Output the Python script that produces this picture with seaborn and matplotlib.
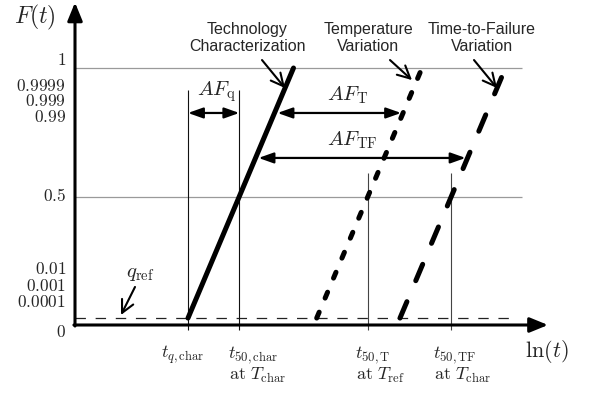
import numpy as np
import pandas as pd
import matplotlib
matplotlib.use("Agg")
import matplotlib.pyplot as plt
import seaborn as sns

# ---------------- data ----------------
curve_keys = ["char", "T", "TF"]
curve_names = ["Technology\nCharacterization", "Temperature\nVariation",
               "Time-to-Failure\nVariation"]
ln_t_start = [1.13, 2.417, 3.25]      # ln(t) where each curve leaves q_ref
ln_t_end = [2.185, 3.47, 4.305]       # ln(t) where each curve reaches F = 1
F_qref = 0.027                        # probability-scale position of q_ref
F_one = 1.0
F_half = 0.5
ytick_labels = ["1", "0.9999", "0.999", "0.99", "0.5", "0.01", "0.001", "0.0001", "0"]
ytick_pos = [1.031, 0.931, 0.871, 0.808, 0.502, 0.218, 0.152, 0.089, -0.027]
F_AFq = 0.825
F_AFT = 0.825
F_AFTF = 0.650

# ---------------- style ----------------
sns.set_style("white")
plt.rcParams["mathtext.fontset"] = "cm"
plt.rcParams["font.family"] = ["Liberation Sans", "DejaVu Sans"]
plt.rcParams["lines.scale_dashes"] = False

fig = plt.figure(figsize=(5.92, 3.93), dpi=100)
ax = fig.add_axes([0, 0, 1, 1])
ax.set_xlim(-0.75, 5.17)
ax.set_ylim(-68 / 257, 325 / 257)
ax.axis("off")

def x_at(i, F):
    return np.interp(F, [F_qref, F_one], [ln_t_start[i], ln_t_end[i]])

t50 = [x_at(i, F_half) for i in range(3)]

# grid lines
for F in [F_one, F_half]:
    ax.hlines(F, 0, 4.47, color="#9a9a9a", lw=0.9, zorder=1)
# q_ref dashed line
ax.hlines(F_qref, 0, 4.40, color="#222222", lw=0.9, linestyles=[(0, (7.5, 7.0))], zorder=1)

# vertical marker lines
ax.vlines([ln_t_start[0], t50[0]], -0.02, 0.914, color="#111111", lw=0.8, zorder=1)
ax.vlines([t50[1], t50[2]], -0.02, 0.591, color="#444444", lw=0.8, zorder=1)

# curves
rows = []
for i, k in enumerate(curve_keys):
    rows.append({"ln_t": ln_t_start[i], "F": F_qref, "curve": k})
    rows.append({"ln_t": ln_t_end[i], "F": F_one, "curve": k})
df = pd.DataFrame(rows)
sns.lineplot(data=df, x="ln_t", y="F", hue="curve", style="curve",
             palette={k: "black" for k in curve_keys},
             dashes={"char": "", "T": (4.6, 11.0), "TF": (12.8, 16.4)},
             lw=3.6, legend=False, sort=False, ax=ax, zorder=3,
             solid_capstyle="round", dash_capstyle="round")
ax.set_xlabel("")
ax.set_ylabel("")

# axes with arrows
ax.annotate("", xy=(0, 1.255), xytext=(0, -0.004),
            arrowprops=dict(arrowstyle="-|>,head_length=1.1,head_width=0.45",
                            lw=2.2, color="black", shrinkA=0, shrinkB=0, mutation_scale=10))
ax.annotate("", xy=(4.73, 0), xytext=(-0.011, 0),
            arrowprops=dict(arrowstyle="-|>,head_length=1.1,head_width=0.45",
                            lw=2.2, color="black", shrinkA=0, shrinkB=0, mutation_scale=10))

# double arrows
dbl = dict(arrowstyle="<|-|>,head_length=0.9,head_width=0.32", lw=1.6, color="black",
           shrinkA=0, shrinkB=0, mutation_scale=10)
ax.annotate("", xy=(t50[0], F_AFq), xytext=(ln_t_start[0], F_AFq), arrowprops=dbl)
ax.annotate("", xy=(x_at(1, F_AFT) - 0.02, F_AFT), xytext=(x_at(0, F_AFT) + 0.03, F_AFT), arrowprops=dbl)
ax.annotate("", xy=(x_at(2, F_AFTF) - 0.02, F_AFTF), xytext=(x_at(0, F_AFTF) + 0.03, F_AFTF), arrowprops=dbl)

ax.text(1.41, 0.907, r"$AF_{\mathrm{q}}$", fontsize=15, ha="center", va="center")
ax.text(2.73, 0.895, r"$AF_{\mathrm{T}}$", fontsize=15, ha="center", va="center")
ax.text(2.77, 0.720, r"$AF_{\mathrm{TF}}$", fontsize=15, ha="center", va="center")

# curve annotations
op = dict(arrowstyle="->,head_length=0.9,head_width=0.45", lw=1.5, color="black",
          shrinkA=0, shrinkB=0, mutation_scale=10)
txt_pos = [(1.72, 1.117), (2.93, 1.117), (4.07, 1.117)]
arr_from = [(1.87, 1.031), (3.15, 1.031), (3.99, 1.031)]
arr_to = [(2.10, 0.922), (3.37, 0.953), (4.22, 0.922)]
for name, tp, a0, a1 in zip(curve_names, txt_pos, arr_from, arr_to):
    ax.text(tp[0], tp[1], name, fontsize=11.5, ha="center", va="center", linespacing=1.15)
    ax.annotate("", xy=a1, xytext=a0, arrowprops=op)

# q_ref
ax.text(0.65, 0.202, r"$q_{\mathrm{ref}}$", fontsize=15, ha="center", va="center")
ax.annotate("", xy=(0.46, 0.039), xytext=(0.60, 0.148), arrowprops=op)

# y labels
ax.text(-0.40, 1.198, r"$F(t)$", fontsize=17, ha="center", va="center")
for lab, pos in zip(ytick_labels, ytick_pos):
    ax.text(-0.09, pos, "$" + lab + "$", fontsize=12.5, ha="right", va="center")

# x labels
ax.text(1.08, -0.117, r"$t_{q,\mathrm{char}}$", fontsize=13, ha="center", va="center")
xl = [(1.53, r"$t_{50,\mathrm{char}}$", r"$\mathrm{at}\ T_{\mathrm{char}}$"),
      (2.80, r"$t_{50,\mathrm{T}}$", r"$\mathrm{at}\ T_{\mathrm{ref}}$"),
      (3.58, r"$t_{50,\mathrm{TF}}$", r"$\mathrm{at}\ T_{\mathrm{char}}$")]
for x, l1, l2 in xl:
    ax.text(x, -0.117, l1, fontsize=13, ha="left", va="center")
    ax.text(x + 0.01, -0.195, l2, fontsize=13, ha="left", va="center")
ax.text(4.72, -0.105, r"$\ln(t)$", fontsize=16, ha="center", va="center")

fig.savefig("out.png", dpi=100)
